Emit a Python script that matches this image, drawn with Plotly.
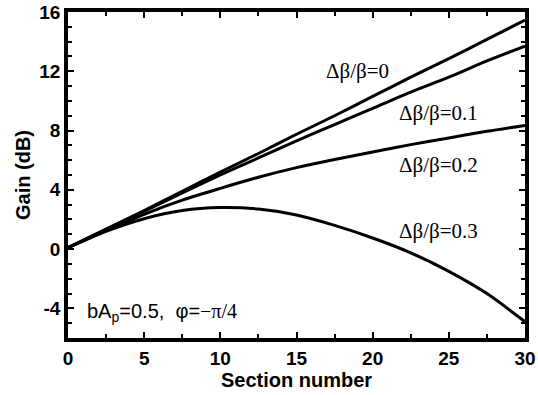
import plotly.graph_objects as go

# Section number
sections = [0, 2.5, 5, 7.5, 10, 12.5, 15, 17.5, 20, 22.5, 25, 27.5, 30]

# Gain (dB) for each phase-velocity mismatch
gain_db_00 = [0.1, 1.35, 2.6, 3.9, 5.2, 6.45, 7.75, 9.0, 10.3, 11.6, 12.85, 14.15, 15.45]
gain_db_01 = [0.1, 1.33, 2.55, 3.8, 5.0, 6.15, 7.3, 8.4, 9.5, 10.6, 11.6, 12.7, 13.7]
gain_db_02 = [0.1, 1.25, 2.35, 3.3, 4.1, 4.85, 5.5, 6.05, 6.55, 7.05, 7.5, 7.95, 8.35]
gain_db_03 = [0.1, 1.2, 2.05, 2.6, 2.8, 2.7, 2.3, 1.6, 0.75, -0.25, -1.5, -3.0, -4.9]

# Axis ticks
x_ticks = [0, 5, 10, 15, 20, 25, 30]
y_ticks = [-4, 0, 4, 8, 12, 16]
y_tick_text = ["-4", "0", "4", "8", "12", "16"]

series = [
    ("Δβ/β=0", gain_db_00, 19.0, 12.0),
    ("Δβ/β=0.1", gain_db_01, 24.3, 9.2),
    ("Δβ/β=0.2", gain_db_02, 24.3, 5.7),
    ("Δβ/β=0.3", gain_db_03, 24.3, 1.25),
]

SERIF = "Liberation Serif, Times New Roman, serif"
SANS = "Liberation Sans, Arial, sans-serif"

fig = go.Figure()
for name, ys, lx, ly in series:
    fig.add_trace(go.Scatter(
        x=sections, y=ys, mode="lines", name=name,
        line=dict(color="black", width=3, shape="spline", smoothing=0.8),
        showlegend=False,
    ))
    fig.add_annotation(
        x=lx, y=ly, text=name, showarrow=False,
        font=dict(family=SERIF, size=21, color="black"),
    )

fig.add_annotation(
    x=1.1, y=-4.3, xanchor="left", showarrow=False,
    text=("bA<sub><span style='color:black'>p</span></sub>=0.5,  φ="
          f"<span style='font-family:{SERIF}'>−π/4</span>"),
    font=dict(family=SANS, size=20, color="black"),
)

axis_common = dict(
    showline=True, linecolor="black", linewidth=3.5, mirror="ticks",
    ticks="inside", ticklen=6, tickwidth=2, tickcolor="black",
    showgrid=False, zeroline=False, automargin=False,
    tickfont=dict(family=SANS, size=19, color="black", weight="bold"),
    title_font=dict(family=SANS, size=20, color="black", weight="bold"),
)

fig.update_xaxes(
    range=[0, 30], tickmode="array", tickvals=x_ticks,
    minor=dict(dtick=2.5, ticks="inside", ticklen=4, tickwidth=2, tickcolor="black"),
    title_text="Section number", title_standoff=1,
    **axis_common,
)
fig.update_yaxes(
    range=[-6, 16], tickmode="array", tickvals=y_ticks, ticktext=y_tick_text,
    minor=dict(dtick=1, tick0=0, ticks="inside", ticklen=4, tickwidth=2, tickcolor="black"),
    title_text="Gain (dB)", title_standoff=4,
    **axis_common,
)

fig.update_layout(
    width=538, height=395,
    margin=dict(l=68, r=13, t=12, b=57),
    paper_bgcolor="white", plot_bgcolor="white",
)

fig.write_html("out.html")
